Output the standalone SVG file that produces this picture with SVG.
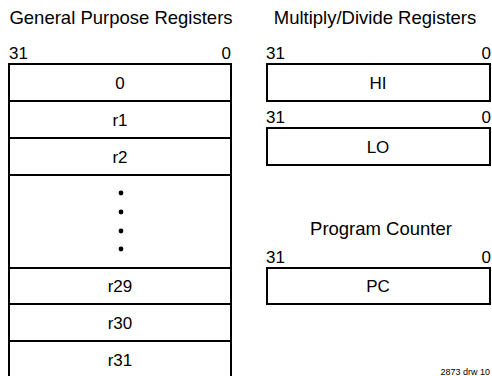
<svg xmlns="http://www.w3.org/2000/svg" width="492" height="376" viewBox="0 0 492 376">
<style>
text{font-family:"Liberation Sans",Arial,sans-serif;fill:#000}
.title{font-size:18.5px;text-anchor:middle}
.bit{font-size:17px}
.lbl{font-size:17px;text-anchor:middle}
.reg{fill:#fff;stroke:#000;stroke-width:2}
.note{font-size:9px;text-anchor:end}
</style>
<rect width="492" height="376" fill="#fff"/>
<g id="gpr">
<text class="title" x="121" y="24">General Purpose Registers</text>
<text class="bit" x="9" y="59">31</text>
<text class="bit" x="231" y="59" text-anchor="end">0</text>
<g id="r0"><rect class="reg" x="9" y="64" width="222" height="37"/><text class="lbl" x="120" y="89">0</text></g>
<g id="r1"><rect class="reg" x="9" y="101" width="222" height="37"/><text class="lbl" x="120" y="126">r1</text></g>
<g id="r2"><rect class="reg" x="9" y="138" width="222" height="37"/><text class="lbl" x="120" y="163">r2</text></g>
<g id="rdots"><rect class="reg" x="9" y="175" width="222" height="93"/>
<circle cx="121" cy="193" r="2.4"/><circle cx="121" cy="212" r="2.4"/><circle cx="121" cy="231" r="2.4"/><circle cx="121" cy="249" r="2.4"/></g>
<g id="r29"><rect class="reg" x="9" y="268" width="222" height="36"/><text class="lbl" x="120" y="292">r29</text></g>
<g id="r30"><rect class="reg" x="9" y="304" width="222" height="37"/><text class="lbl" x="120" y="329">r30</text></g>
<g id="r31"><rect class="reg" x="9" y="341" width="222" height="40"/><text class="lbl" x="120" y="366">r31</text></g>
</g>
<g id="mdr">
<text class="title" x="375" y="24">Multiply/Divide Registers</text>
<g id="hi"><text class="bit" x="266" y="59">31</text><text class="bit" x="491" y="59" text-anchor="end">0</text>
<rect class="reg" x="267" y="64" width="223" height="37"/><text class="lbl" x="378" y="89">HI</text></g>
<g id="lo"><text class="bit" x="266" y="123">31</text><text class="bit" x="491" y="123" text-anchor="end">0</text>
<rect class="reg" x="267" y="128" width="223" height="37"/><text class="lbl" x="378" y="153">LO</text></g>
</g>
<g id="pc">
<text class="title" x="381" y="235">Program Counter</text>
<text class="bit" x="266" y="263">31</text><text class="bit" x="491" y="263" text-anchor="end">0</text>
<rect class="reg" x="267" y="268" width="223" height="36"/><text class="lbl" x="378" y="292">PC</text>
</g>
<g id="connectors"/>
<text class="note" x="490" y="375">2873 drw 10</text>
</svg>
